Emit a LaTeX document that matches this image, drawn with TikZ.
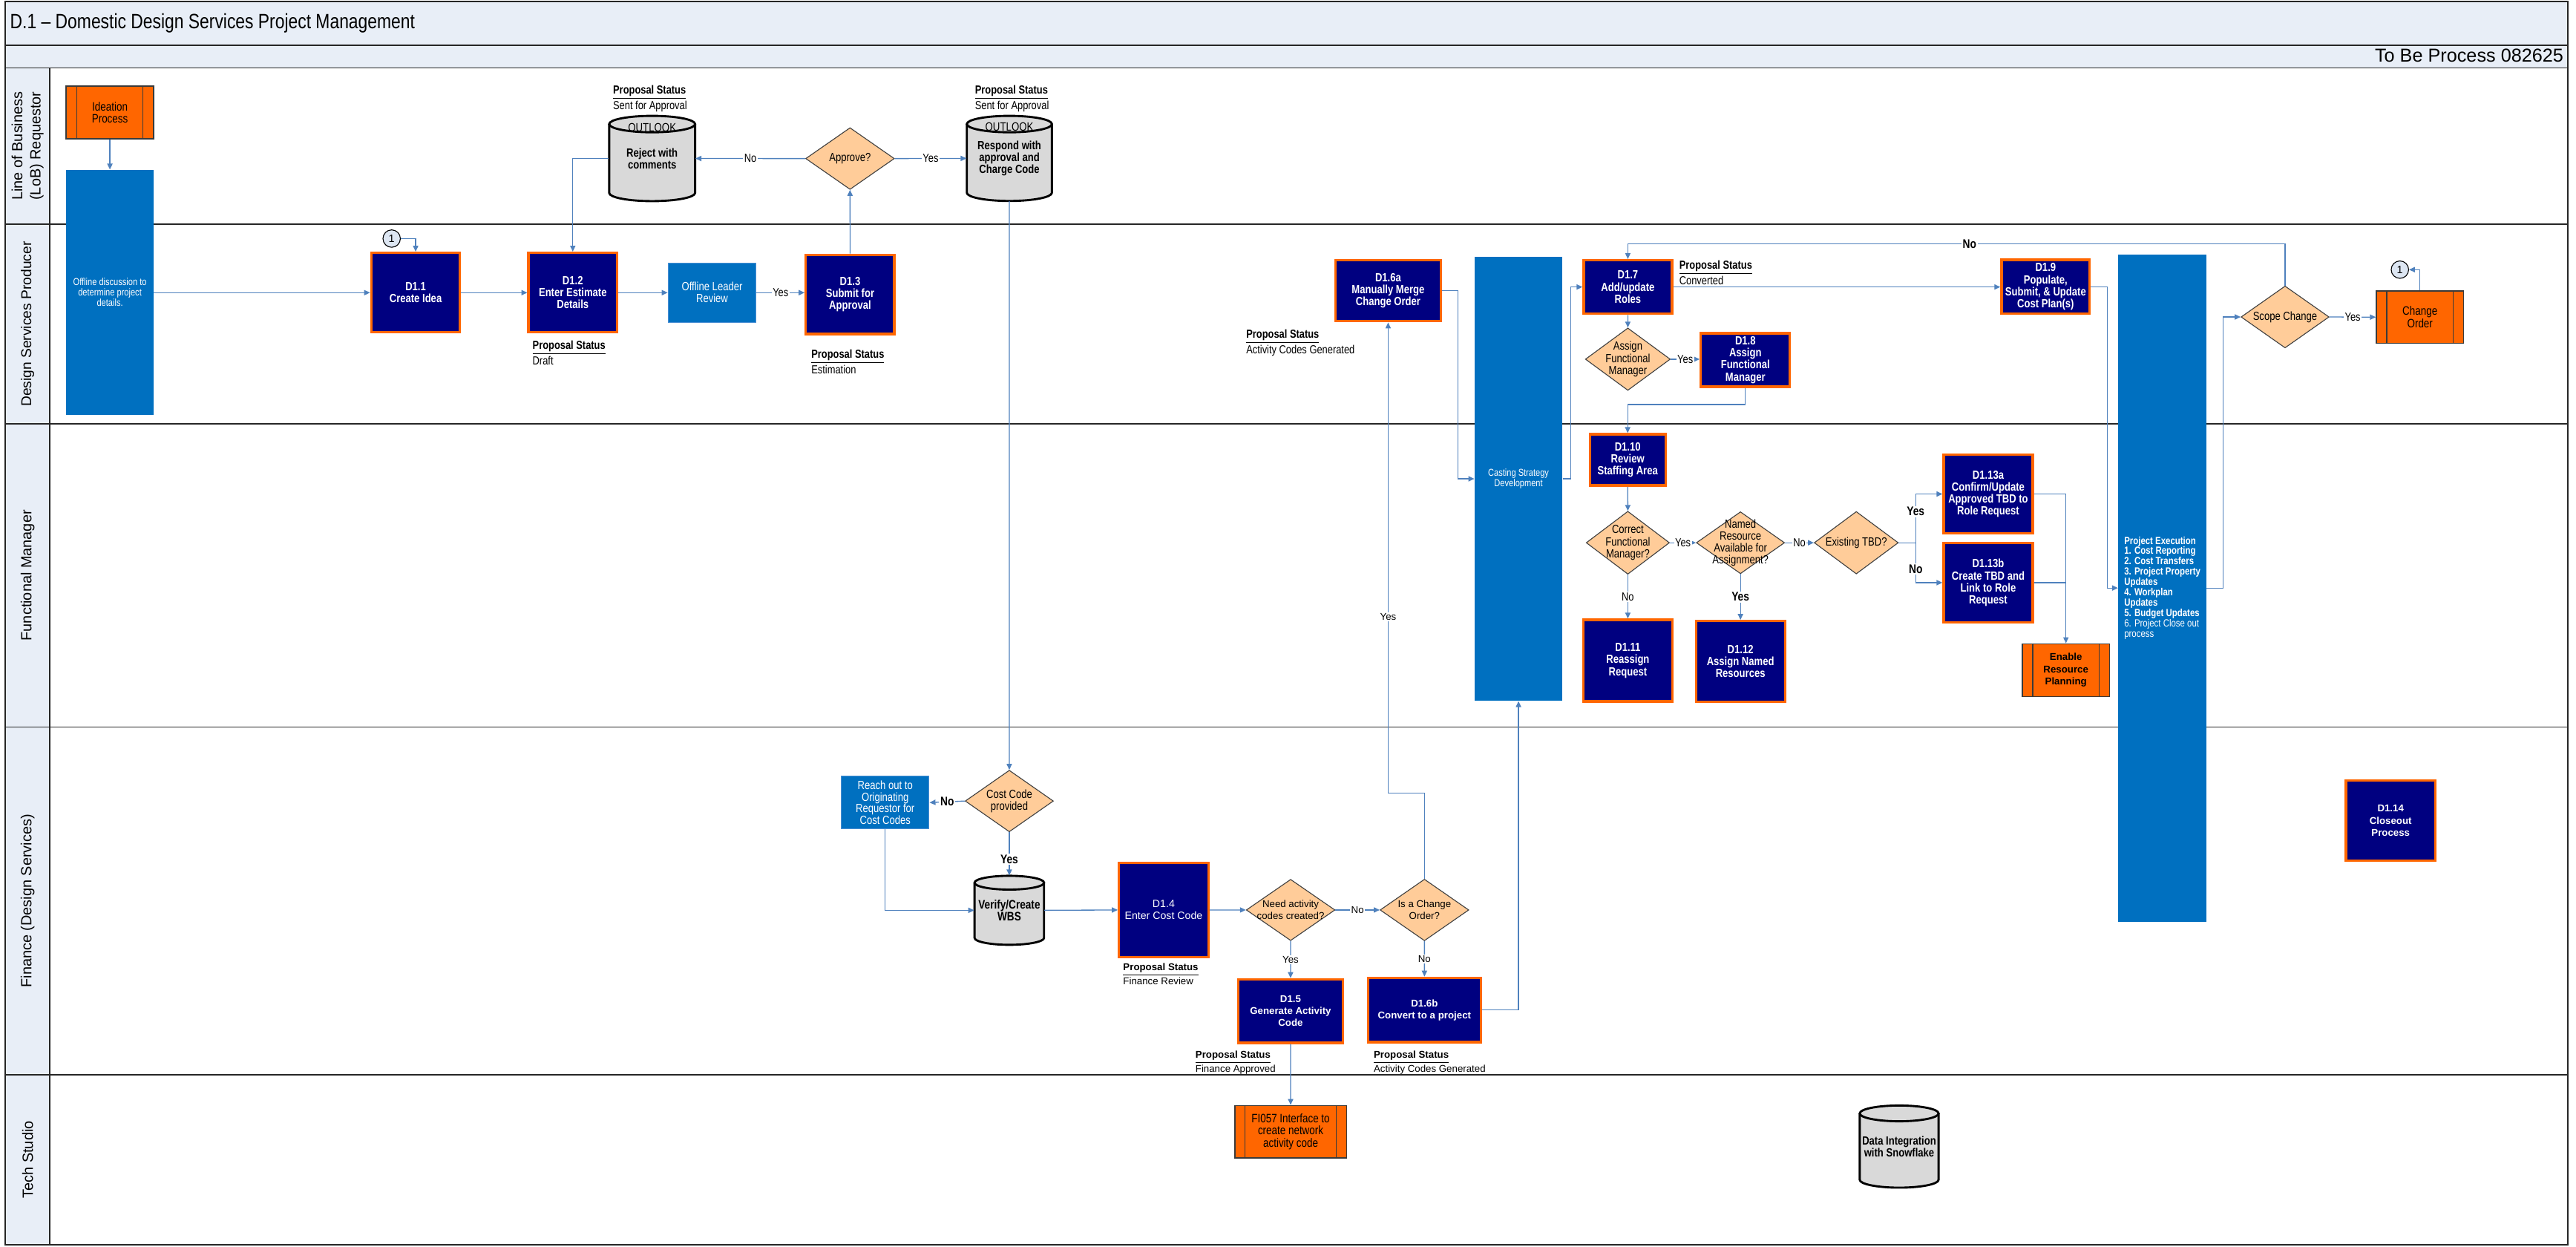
\documentclass[tikz,border=0pt]{standalone}
\usepackage{fontspec}
\setmainfont{Liberation Sans}
\newfontfamily\nar{Liberation Sans}[FakeStretch=0.82]
\usetikzlibrary{shapes.geometric,arrows.meta}
\newcommand{\myfs}[2]{\fontsize{#1}{#2}\selectfont}
\definecolor{navyc}{HTML}{000080}
\definecolor{orng}{HTML}{FF6600}
\definecolor{bluec}{HTML}{0070C0}
\definecolor{bluebd}{HTML}{4A8FD4}
\definecolor{peach}{HTML}{FFCC99}
\definecolor{diabd}{HTML}{404040}
\definecolor{cylc}{HTML}{D9D9D9}
\definecolor{linec}{HTML}{4F81BD}
\definecolor{hdr}{HTML}{E8EEF7}
\definecolor{circc}{HTML}{DDE6F2}
\definecolor{darkbd}{HTML}{3A3A3A}
\definecolor{framec}{HTML}{262626}
\newcommand{\mkbox}[7]{%
 \pgfmathsetmacro{\mkw}{#5-#3}%
 \pgfmathsetmacro{\mkh}{#6-#4}%
 \pgfmathsetmacro{\mkx}{(#3+#5)/2}%
 \pgfmathsetmacro{\mky}{(#4+#6)/2}%
 \node[#1, minimum width=\mkw pt, minimum height=\mkh pt] (#2) at (\mkx,\mky) {#7};}
\newcommand{\mkdia}[7]{%
 \node[dia, minimum width=#5pt, minimum height=#6pt] (#2) at (#3,#4) {};
 \node[#1] (#2t) at (#2.center) {#7};}
\newcommand{\cylshape}[5]{%
 \pgfmathsetmacro{\cyA}{(#1+#3)/2}%
 \pgfmathsetmacro{\cyR}{(#3-#1)/2}%
 \fill[cylc] (#1,#2+#5) -- (#1,#4-#5) arc[start angle=180,end angle=0,x radius=\cyR,y radius=#5] -- (#3,#2+#5) -- cycle;
 \filldraw[fill=cylc, draw=black, line width=1.3pt] (\cyA,#2+#5) ellipse[x radius=\cyR, y radius=#5];
 \draw[black, line width=1.3pt] (#1,#2+#5) -- (#1,#4-#5) arc[start angle=180,end angle=0,x radius=\cyR,y radius=#5] -- (#3,#2+#5);}
\newcommand{\sublines}[2]{%
 \draw[subline] ([xshift=#2pt]#1.north west) -- ([xshift=#2pt]#1.south west);
 \draw[subline] ([xshift=-#2pt]#1.north east) -- ([xshift=-#2pt]#1.south east);}
\tikzset{
 every node/.style={inner sep=0.5pt},
 frame/.style={draw=framec, line width=0.8pt},
 navybox/.style={draw=orng, fill=navyc, line width=1.5pt, text=white, align=center, font=\nar\bfseries\myfs{7.2}{7.3}},
 navysm/.style={navybox, font=\bfseries\myfs{6}{7.3}},
 navyreg/.style={navybox, font=\myfs{6.4}{7.4}},
 bluebox/.style={fill=bluec, draw=bluebd, line width=0.6pt, text=white, align=center, font=\nar\myfs{7.2}{7.2}},
 bigbar/.style={fill=bluec, text=white, align=center, font=\nar\myfs{6.1}{6.3}},
 subp/.style={fill=orng, draw=darkbd, line width=0.7pt, align=center, font=\nar\myfs{7.4}{7.4}},
 subpb/.style={subp, font=\bfseries\myfs{6}{7.4}},
 subline/.style={draw=darkbd, line width=0.7pt},
 dia/.style={diamond, fill=peach, draw=diabd, line width=0.5pt, inner sep=0pt},
 dtxt/.style={align=center, font=\nar\myfs{7.2}{7.3}},
 dtxts/.style={align=center, font=\myfs{6}{7.2}},
 cyltxt/.style={align=center, inner sep=0pt, font=\nar\bfseries\myfs{7.2}{7.3}},
 cyltop/.style={font=\nar\myfs{7.3}{7.3}},
 conn/.style={draw=linec, line width=0.6pt, -{Triangle[length=3.6pt,width=3.2pt]}},
 connl/.style={draw=linec, line width=0.6pt},
 lbl/.style={fill=white, inner sep=0.7pt, font=\nar\myfs{7.1}{7.1}},
 lbls/.style={fill=white, inner sep=0.7pt, font=\myfs{6}{6}},
 blbl/.style={fill=white, inner sep=0.7pt, font=\nar\bfseries\myfs{7.6}{7.6}},
 stat/.style={anchor=north west, align=left, inner sep=0pt, font=\nar\myfs{7.1}{7.2}},
 stats/.style={anchor=north west, align=left, inner sep=0pt, font=\myfs{6}{7.25}},
 lanelbl/.style={rotate=90, align=center, font=\myfs{9}{11}},
 onec/.style={circle, draw=black, line width=0.5pt, fill=circc, minimum size=10.6pt, inner sep=0pt, font=\myfs{6.5}{6.5}},
}
\begin{document}
\begin{tikzpicture}[x=1pt,y=-1pt]
\useasboundingbox (0,0) rectangle (1568,758.5);
% header and lanes
\fill[hdr] (3.2,0.9) rectangle (1563,41.3);
\fill[hdr] (3.2,41.3) rectangle (30.4,757.6);
\draw[frame] (3.2,27.7) -- (1563,27.7);
\draw[frame] (3.2,41.3) -- (1563,41.3);
\foreach \yy in {136.4,258,442.5,654} \draw[frame] (3.2,\yy) -- (1563,\yy);
\draw[frame] (30.4,41.3) -- (30.4,757.6);
\draw[frame] (3.2,0.9) rectangle (1563,757.6);
\node[anchor=west, font=\nar\myfs{12.6}{13}] (title) at (5.5,14) {D.1 – Domestic Design Services Project Management};
\node[anchor=east, font=\myfs{11.4}{12}] (tbp) at (1561,33.6) {To Be Process 082625};
\node[lanelbl] (lnA) at (16.8,88.8) {Line of Business\\(LoB) Requestor};
\node[lanelbl, font=\myfs{8.7}{10}] (lnB) at (16.8,197.2) {Design Services Producer};
\node[lanelbl] (lnC) at (16.8,350.2) {Functional Manager};
\node[lanelbl] (lnD) at (16.8,548.3) {Finance (Design Services)};
\node[lanelbl] (lnE) at (16.8,705.8) {Tech Studio};
% ---- LoB lane
\mkbox{subp}{ide}{40.3}{52.4}{93.5}{84.4}{Ideation\\Process}
\sublines{ide}{6.9}
\mkbox{bigbar}{offb}{40.3}{103.4}{93.5}{252.4}{Offline discussion to\\determine project\\details.}
\cylshape{370.8}{70.5}{423.1}{122.4}{5}
\node[cyltxt, minimum width=52.3pt, minimum height=51.9pt] (rej) at (396.95,96.45) {Reject with\\comments};
\node[cyltop] (rejo) at (396.95,77.5) {OUTLOOK};
\cylshape{588.5}{70.5}{640.3}{122.3}{5}
\node[cyltxt, minimum width=51.8pt, minimum height=51.8pt] (resp) at (614.4,96.4) {Respond with\\approval and\\Charge Code};
\node[cyltop] (respo) at (614.4,77.3) {OUTLOOK};
\mkdia{dtxt}{ap}{517.4}{96.5}{54}{37.6}{Approve?}
\node[stat] (st1) at (373,51.8) {\underline{\textbf{Proposal Status}}\\Sent for Approval};
\node[stat] (st2) at (593.3,51.8) {\underline{\textbf{Proposal Status}}\\Sent for Approval};
% ---- Design Services Producer lane
\node[onec] (c1a) at (238.4,145.2) {1};
\mkbox{navybox}{d11}{226}{153.9}{280}{202.3}{D1.1\\Create Idea}
\mkbox{navybox}{d12}{321.7}{153.9}{375.6}{202.3}{D1.2\\Enter Estimate\\Details}
\mkbox{bluebox}{olr}{406.7}{160}{460.2}{196.2}{Offline Leader\\Review}
\mkbox{navybox}{d13}{490.5}{155.1}{544.4}{203.3}{D1.3\\Submit for\\Approval}
\node[stat] (st3) at (324,207) {\underline{\textbf{Proposal Status}}\\Draft};
\node[stat] (st4) at (493.7,212.6) {\underline{\textbf{Proposal Status}}\\Estimation};
\mkbox{navybox}{d16a}{812.8}{158.4}{877.1}{195.5}{D1.6a\\Manually Merge\\Change Order}
\node[stat] (st5) at (758.4,200.3) {\underline{\textbf{Proposal Status}}\\Activity Codes Generated};
\mkbox{bigbar}{cast}{897.6}{156.3}{951}{426.5}{Casting Strategy\\Development}
\mkbox{navybox}{d17}{964}{158.4}{1017.7}{190.9}{D1.7\\Add/update\\Roles}
\node[stat] (st6) at (1022,158.4) {\underline{\textbf{Proposal Status}}\\Converted};
\mkdia{dtxt}{afm}{990.85}{218.6}{51.7}{38}{Assign\\Functional\\Manager}
\mkbox{navybox}{d18}{1035.3}{202.8}{1089.5}{235.4}{D1.8\\Assign\\Functional\\Manager}
\mkbox{navybox}{d19}{1218.3}{158.1}{1272}{190.8}{D1.9\\Populate,\\Submit, \& Update\\Cost Plan(s)}
\node[bigbar, align=left, minimum width=53.6pt, minimum height=406.1pt, font=\nar\myfs{6.3}{6.3}] (pe) at (1316.2,357.85) {\textbf{Project Execution}\\\textbf{1. Cost Reporting}\\\textbf{2. Cost Transfers}\\\textbf{3. Project Property}\\\textbf{Updates}\\\textbf{4. Workplan}\\\textbf{Updates}\\\textbf{5. Budget Updates}\\6. Project Close out\\process};
\mkdia{dtxt}{sc}{1390.9}{192.9}{53.6}{37.7}{Scope Change}
\mkbox{subp}{co}{1446.5}{177}{1499.5}{209}{Change\\Order}
\sublines{co}{6.6}
\node[onec] (c1b) at (1460.8,164.1) {1};
% ---- Functional Manager lane
\mkbox{navybox}{d110}{967.7}{264.3}{1013.8}{295.5}{D1.10\\Review\\Staffing Area}
\mkdia{dtxt}{cfm}{990.85}{330.3}{50.7}{38.3}{Correct\\Functional\\Manager?}
\mkdia{dtxt}{nra}{1059.4}{330.3}{53.7}{37.7}{Named\\Resource\\Available for\\Assignment?}
\mkdia{dtxt}{etbd}{1129.9}{330.3}{51.2}{38}{Existing TBD?}
\mkbox{navybox}{d111}{963.85}{377.2}{1017.85}{426.9}{D1.11\\Reassign\\Request}
\mkbox{navybox}{d112}{1032.3}{378}{1086.5}{427}{D1.12\\Assign Named\\Resources}
\mkbox{navybox}{d113a}{1183.1}{276.6}{1237.3}{324.7}{D1.13a\\Confirm/Update\\Approved TBD to\\Role Request}
\mkbox{navybox}{d113b}{1183.1}{330.5}{1237.3}{378.7}{D1.13b\\Create TBD and\\Link to Role\\Request}
\mkbox{subpb}{erp}{1231}{391.8}{1284}{423.9}{Enable\\Resource\\Planning}
\sublines{erp}{6.7}
% ---- Finance lane
\mkdia{dtxt}{cc}{614.35}{487.5}{53.7}{37.5}{Cost Code\\provided}
\mkbox{bluebox}{reach}{512.1}{472.4}{565.5}{504.5}{Reach out to\\Originating\\Requestor for\\Cost Codes}
\cylshape{593.2}{533}{635.5}{575}{4.2}
\node[cyltxt, minimum width=42.3pt, minimum height=42pt, font=\nar\bfseries\myfs{7.5}{7.4}] (wbs) at (614.35,554) {Verify/Create\\WBS};
\mkbox{navyreg}{d14}{681.1}{525.2}{735.5}{582.4}{D1.4\\Enter Cost Code}
\node[stats] (st7) at (683.5,586) {\underline{\textbf{Proposal Status}}\\Finance Review};
\mkdia{dtxts}{need}{785.6}{553.8}{54}{37.3}{Need activity\\codes created?}
\mkdia{dtxts}{isco}{867.05}{553.8}{54}{37.5}{Is a Change\\Order?}
\mkbox{navysm}{d15}{753.6}{596}{817.5}{634.7}{D1.5\\Generate Activity\\Code}
\mkbox{navysm}{d16b}{832.7}{595.1}{901.4}{634.3}{D1.6b\\Convert to a project}
\node[stats] (st8) at (727.5,639.5) {\underline{\textbf{Proposal Status}}\\Finance Approved};
\node[stats] (st9) at (836,639.5) {\underline{\textbf{Proposal Status}}\\Activity Codes Generated};
\mkbox{navysm}{d114}{1428}{475}{1482.3}{523.9}{D1.14\\Closeout\\Process}
% ---- Tech Studio lane
\mkbox{subp}{fi}{751.6}{672.8}{819.6}{704.7}{FI057 Interface to\\create network\\activity code}
\sublines{fi}{6.6}
\cylshape{1132}{672.8}{1180}{722.8}{4.8}
\node[cyltxt, minimum width=48pt, minimum height=50pt] (dint) at (1156,697.8) {Data Integration\\with Snowflake};
% ---- connectors
\draw[conn] (ide.south) -- (offb.north);
\draw[conn] (offb.east |- d11.west) -- (d11.west);
\draw[conn] (c1a.east) -| (d11.north);
\draw[conn] (d11.east) -- (d12.west);
\draw[conn] (d12.east) -- (olr.west);
\draw[conn] (olr.east) -- node[lbl] (yA) {Yes} (olr.east -| d13.west);
\draw[conn] (d13.north) -- (ap.south);
\draw[conn] (ap.west) -- node[lbl] (nA) {No} (rej.east);
\draw[conn] (ap.east) -- node[lbl] (yB) {Yes} (resp.west);
\draw[conn] (rej.west) -| (d12.north);
\draw[conn] (resp.south) -- (cc.north);
\draw[conn] (cc.west) -- node[blbl] (nB) {No} (reach.east);
\draw[conn] (cc.south) -- node[blbl, pos=0.62] (yC) {Yes} (wbs.north);
\draw[conn] (reach.south) |- (wbs.west);
\draw[conn] (wbs.east) -- (d14.west);
\draw[conn] (d14.east) -- (need.west);
\draw[conn] (need.east) -- node[lbls] (nC) {No} (isco.west);
\draw[conn] (need.south) -- node[lbls] (yD) {Yes} (d15.north);
\draw[conn] (isco.south) -- node[lbls] (nD) {No} (d16b.north);
\draw[conn] (isco.north) -- ++(0,-52.2) -| node[lbls, pos=0.687] (yE) {Yes} (d16a.south);
\draw[conn] (d16b.east) -| (cast.south);
\draw[conn] (d15.south) -- (fi.north);
\draw[conn] (d16a.east) -- ++(9.7,0) |- (cast.west);
\draw[conn] (cast.east) -- ++(5,0) |- (d17.west);
\draw[conn] (d17.east) -- (d17.east -| d19.west);
\draw[conn] (d17.south) -- (afm.north);
\draw[conn] (afm.east) -- node[lbl] (yF) {Yes} (afm.east -| d18.west);
\draw[conn] (d18.south) -- ++(0,10) -| (d110.north);
\draw[conn] (d110.south) -- (cfm.north);
\draw[conn] (cfm.east) -- node[lbl] (yG) {Yes} (nra.west);
\draw[conn] (cfm.south) -- node[lbl] (nE) {No} (d111.north);
\draw[conn] (nra.south) -- node[blbl] (yH) {Yes} (d112.north);
\draw[conn] (nra.east) -- node[lbl] (nF) {No} (etbd.west);
\draw[conn] (etbd.east) -- ++(10.3,0) coordinate (br) |- node[blbl, pos=0.32] (yI) {Yes} (d113a.west);
\draw[conn] (br) |- node[blbl, pos=0.33] (nG) {No} (d113b.west);
\draw[conn] (d113a.east) -| (erp.north);
\draw[connl] (d113b.east) -- (d113b.east -| erp.north);
\draw[conn] (d19.east) -- ++(9.9,0) |- (pe.west);
\draw[conn] (pe.east) -- ++(10,0) |- (sc.west);
\draw[conn] (sc.east) -- node[lbl] (yJ) {Yes} (co.west);
\draw[conn] (sc.north) -- ++(0,-25.3) -| node[blbl, pos=0.24] (nH) {No} (d17.north);
\draw[conn] (co.north) |- (c1b.east);
\end{tikzpicture}
\end{document}
